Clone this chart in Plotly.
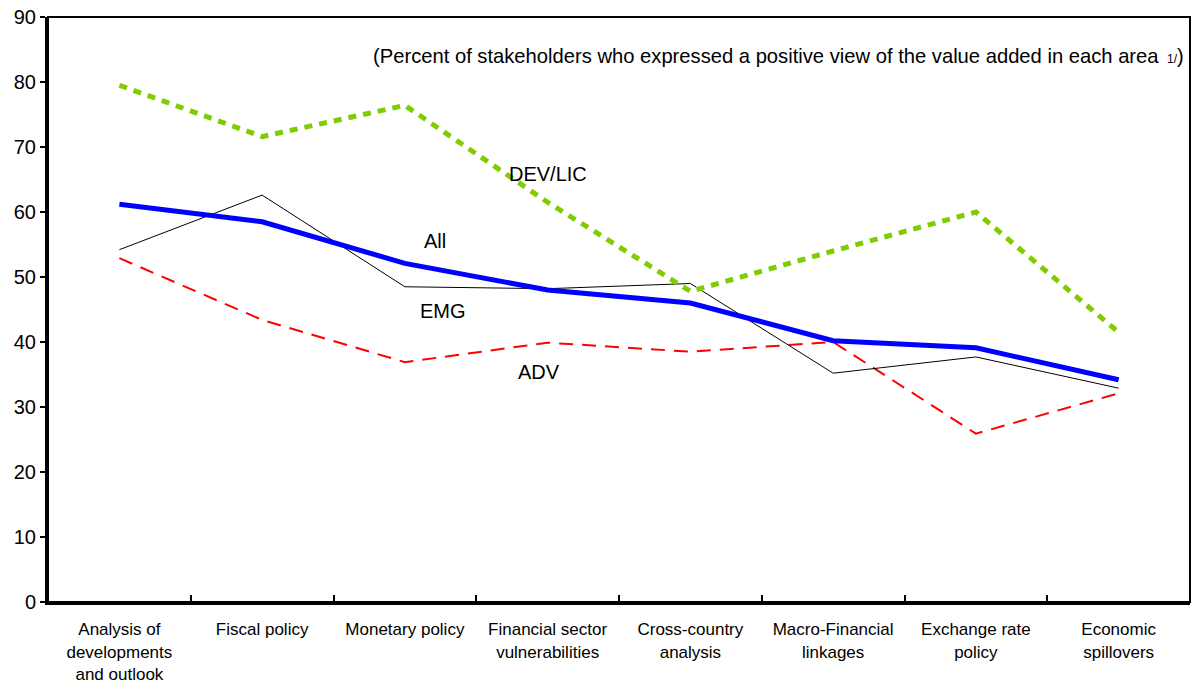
import plotly.graph_objects as go

categories = [
    "Analysis of<br>developments<br>and outlook",
    "Fiscal policy",
    "Monetary policy",
    "Financial sector<br>vulnerabilities",
    "Cross-country<br>analysis",
    "Macro-Financial<br>linkages",
    "Exchange rate<br>policy",
    "Economic<br>spillovers",
]
dev_lic = [79.5, 71.6, 76.4, 61.5, 47.8, 54.0, 60.0, 41.5]
all_vals = [61.2, 58.5, 52.1, 48.0, 46.0, 40.2, 39.1, 34.2]
emg = [54.2, 62.6, 48.5, 48.2, 49.0, 35.2, 37.7, 32.9]
adv = [52.9, 43.4, 36.9, 39.9, 38.5, 40.0, 25.9, 32.1]
y_ticks = [0, 10, 20, 30, 40, 50, 60, 70, 80, 90]

FONT = "Liberation Sans, Arial, sans-serif"

fig = go.Figure()
fig.add_trace(go.Scatter(x=categories, y=adv, mode="lines", name="ADV",
                         line=dict(color="#FF0000", width=2, dash="14px,9px")))
fig.add_trace(go.Scatter(x=categories, y=emg, mode="lines", name="EMG",
                         line=dict(color="#000000", width=1)))
fig.add_trace(go.Scatter(x=categories, y=dev_lic, mode="lines", name="DEV/LIC",
                         line=dict(color="#7FCC00", width=5, dash="8px,7px")))
fig.add_trace(go.Scatter(x=categories, y=all_vals, mode="lines", name="All",
                         line=dict(color="#0000FF", width=5)))

labels = [("DEV/LIC", 3.0, 65.8), ("All", 2.21, 55.5), ("EMG", 2.27, 44.8), ("ADV", 2.94, 35.4)]
for txt, xx, yy in labels:
    fig.add_annotation(x=xx, y=yy, xref="x", yref="y", text=txt, showarrow=False,
                       font=dict(family=FONT, size=20, color="#000000"))

fig.add_annotation(
    x=0.9745, y=84, xref="paper", yref="y", xanchor="right",
    text="(Percent of stakeholders who expressed a positive view of the value added in each area",
    showarrow=False, font=dict(family=FONT, size=20.2, color="#000000"))
fig.add_annotation(
    x=0.9968, y=84, xref="paper", yref="y", xanchor="right",
    text="<span style='font-size:12px'>1/</span>)",
    showarrow=False, font=dict(family=FONT, size=20, color="#000000"))

fig.add_shape(type="rect", xref="paper", yref="paper", x0=0, x1=1, y0=0, y1=1,
              line=dict(color="#000000", width=2), layer="above")

fig.update_xaxes(
    type="category", range=[-0.5, 7.5], showgrid=False, zeroline=False,
    showline=True, linecolor="#000000", linewidth=3, automargin=False,
    ticks="inside", tickson="boundaries", ticklen=7, tickwidth=2, tickcolor="#000000",
    ticklabelstandoff=10,
    tickfont=dict(family=FONT, size=17, color="#000000"),
)
fig.update_yaxes(
    range=[0, 90], tickvals=y_ticks, showgrid=False, zeroline=False,
    showline=True, linecolor="#000000", linewidth=3, automargin=False,
    ticks="outside", ticklen=5, tickwidth=2, tickcolor="#000000",
    tickfont=dict(family=FONT, size=20, color="#000000"),
)
fig.update_layout(
    width=1194, height=685, showlegend=False,
    plot_bgcolor="#FFFFFF", paper_bgcolor="#FFFFFF",
    margin=dict(l=48, r=4, t=17, b=83),
    font=dict(family=FONT, color="#000000"),
)
fig.write_html("out.html", config={"displayModeBar": False},
               post_script="document.body.style.margin='0';document.body.style.overflow='hidden';")
